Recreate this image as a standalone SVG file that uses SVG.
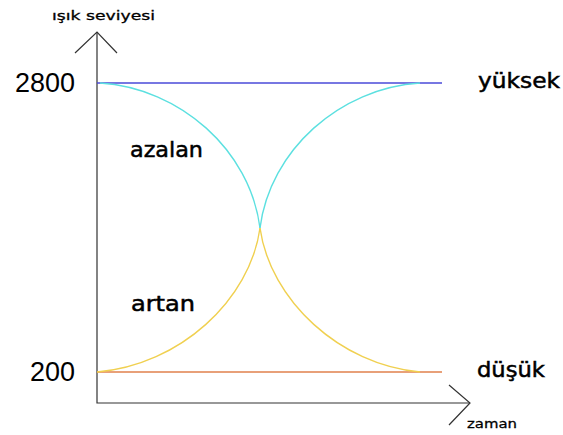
<svg xmlns="http://www.w3.org/2000/svg" width="563" height="435" viewBox="0 0 563 435">
<style>
.t{font-family:"Comic Sans MS","DejaVu Sans","Liberation Sans",sans-serif;fill:#000;stroke:#000;stroke-width:0.5}
.big{font-size:21px}
.num{font-family:"Liberation Sans",Arial,sans-serif;font-size:27px;fill:#000}
.small{font-size:13px;stroke-width:0.3}
.axis{stroke:#333;stroke-width:1.2;fill:none}
.c{fill:none;stroke-width:1.4}
</style>
<rect width="563" height="435" fill="#fff"/>
<g id="connectors">
<g id="axes">
<path class="axis" d="M97,32 V403 H470"/>
<path class="axis" d="M75,53 L97,32 L117,53"/>
<path class="axis" d="M449,385 L470,403 L449,425"/>
</g>
<line x1="97" y1="83" x2="442" y2="83" stroke="#4a4ad8" stroke-width="1.5"/>
<line x1="97" y1="372" x2="442" y2="372" stroke="#e0804c" stroke-width="1.5"/>
<path class="c" stroke="#5ce0e0" d="M100,83 C180,88 250,150 260,228"/>
<path class="c" stroke="#5ce0e0" d="M260,228 C270,150 340,88 420,83"/>
<path class="c" stroke="#f0d050" d="M97,372 C180,365 250,300 260,228"/>
<path class="c" stroke="#f0d050" d="M260,228 C270,300 340,365 420,372"/>
</g>
<g id="label-y"><text class="t small" x="52" y="20" textLength="103" lengthAdjust="spacingAndGlyphs">ışık seviyesi</text></g>
<g id="label-2800"><text class="num" x="15" y="92" textLength="60" lengthAdjust="spacingAndGlyphs">2800</text></g>
<g id="label-200"><text class="num" x="30" y="381" textLength="45" lengthAdjust="spacingAndGlyphs">200</text></g>
<g id="label-yuksek"><text class="t big" x="478" y="88" textLength="82" lengthAdjust="spacingAndGlyphs">yüksek</text></g>
<g id="label-dusuk"><text class="t big" x="477" y="377" textLength="68" lengthAdjust="spacingAndGlyphs">düşük</text></g>
<g id="label-azalan"><text class="t big" x="130" y="157" textLength="73" lengthAdjust="spacingAndGlyphs">azalan</text></g>
<g id="label-artan"><text class="t big" x="131" y="311" textLength="64" lengthAdjust="spacingAndGlyphs">artan</text></g>
<g id="label-x"><text class="t small" x="467" y="428" textLength="50" lengthAdjust="spacingAndGlyphs">zaman</text></g>
</svg>
